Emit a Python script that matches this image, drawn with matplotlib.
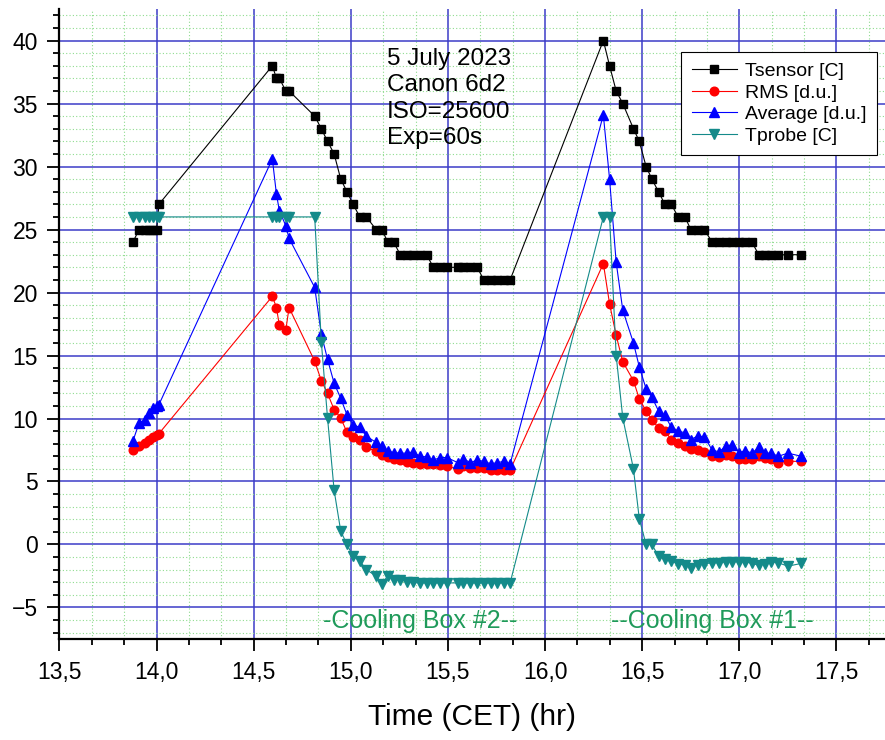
import matplotlib
matplotlib.use("Agg")
import matplotlib.pyplot as plt
from matplotlib.ticker import MultipleLocator, FuncFormatter

# =========================
# DATA
# =========================

# time points (hr, CET)
t_start = [13.878, 13.91, 13.94, 13.96, 13.98, 14.0, 14.012]
t_peak1 = [14.596, 14.617, 14.632, 14.665, 14.682]
t_box2 = [14.814, 14.848, 14.88, 14.914, 14.948, 14.98, 15.012, 15.046, 15.08, 15.13,
          15.16, 15.19, 15.22, 15.255, 15.29, 15.32, 15.355, 15.39, 15.425, 15.46,
          15.495, 15.55, 15.58, 15.615, 15.65, 15.685, 15.72, 15.755, 15.79, 15.82]
t_box1 = [16.30, 16.332, 16.366, 16.40, 16.455, 16.485, 16.52, 16.55, 16.584, 16.617,
          16.65, 16.685, 16.72, 16.75, 16.785, 16.82, 16.86, 16.895, 16.93, 16.96,
          17.0, 17.03, 17.065, 17.1, 17.13, 17.165, 17.2, 17.25, 17.32]
time = t_start + t_peak1 + t_box2 + t_box1

tsensor = ([24, 25, 25, 25, 25, 25, 27]
           + [38, 37, 37, 36, 36]
           + [34, 33, 32, 31, 29, 28, 27, 26, 26, 25, 25, 24, 24, 23, 23, 23, 23, 23,
              22, 22, 22, 22, 22, 22, 22, 21, 21, 21, 21, 21]
           + [40, 38, 36, 35, 33, 32, 30, 29, 28, 27, 27, 26, 26, 25, 25, 25, 24, 24,
              24, 24, 24, 24, 24, 23, 23, 23, 23, 23, 23])

rms = ([7.5, 7.8, 8.07, 8.3, 8.5, 8.7, 8.8]
       + [19.7, 18.8, 17.4, 17.0, 18.8]
       + [14.55, 13.0, 12.0, 10.7, 10.05, 8.9, 8.5, 8.3, 7.7, 7.4, 7.1, 6.96, 6.8, 6.7,
          6.55, 6.5, 6.4, 6.35, 6.35, 6.3, 6.2, 6.0, 6.2, 6.1, 6.1, 6.1, 5.9, 5.9, 5.9, 5.9]
       + [22.3, 19.1, 16.6, 14.5, 13.0, 11.56, 10.6, 9.9, 9.26, 9.0, 8.33, 8.07, 7.8,
          7.54, 7.48, 7.33, 7.06, 6.96, 7.1, 7.0, 6.8, 6.8, 6.8, 7.0, 6.9, 6.8, 6.5, 6.6, 6.6])

average = ([8.2, 9.66, 9.9, 10.45, 10.8, 11.0, 11.1]
           + [30.6, 27.8, 26.5, 25.3, 24.3]
           + [20.4, 16.7, 14.7, 12.8, 11.6, 10.3, 9.5, 9.3, 8.6, 8.1, 7.8, 7.4, 7.3, 7.25,
              7.25, 7.35, 7.0, 6.96, 6.7, 6.9, 6.9, 6.5, 6.8, 6.5, 6.7, 6.6, 6.4, 6.5, 6.6, 6.4]
           + [34.1, 29.0, 22.4, 18.6, 16.0, 14.1, 12.36, 11.7, 10.6, 10.24, 9.3, 9.0, 8.86,
              8.33, 8.6, 8.55, 7.5, 7.35, 7.8, 7.9, 7.3, 7.45, 7.25, 7.7, 7.25, 7.25, 7.0, 7.25, 7.0])

tprobe = ([26, 26, 26, 26, 26, 26, 26]
          + [26, 26, 26, 26, 26]
          + [26.0, 16.1, 10.05, 4.3, 1.06, 0.0, -0.93, -1.3, -2.0, -2.5, -3.1, -2.5, -2.78,
             -2.8, -2.95, -3.0, -3.05, -3.05, -3.05, -3.05, -3.05, -3.05, -3.05, -3.05,
             -3.05, -3.05, -3.05, -3.05, -3.05, -3.05]
          + [26.0, 26.0, 15.0, 10.05, 6.0, 2.04, 0.0, 0.0, -0.93, -1.19, -1.32, -1.53, -1.64,
             -1.85, -1.6, -1.53, -1.45, -1.45, -1.37, -1.37, -1.37, -1.37, -1.5, -1.64,
             -1.53, -1.37, -1.45, -1.72, -1.5])

info_lines = ["5 July 2023", "Canon 6d2", "ISO=25600", "Exp=60s"]

# =========================
# PLOT
# =========================

plt.rcParams["font.family"] = ["Liberation Sans", "DejaVu Sans"]

fig = plt.figure(figsize=(8.85, 7.4), dpi=100)
ax = fig.add_axes([0.0672, 0.1365, 0.9328, 0.8513])

ax.plot(time, tsensor, color="black", lw=0.8, marker="s", ms=5.8, label="Tsensor [C]")
ax.plot(time, rms, color="red", lw=0.8, marker="o", ms=6.2, label="RMS [d.u.]")
ax.plot(time, average, color="blue", lw=0.8, marker="^", ms=7, label="Average [d.u.]")
ax.plot(time, tprobe, color="#148a8a", lw=0.8, marker="v", ms=7, label="Tprobe [C]")

ax.set_xlim(13.5, 17.75)
ax.set_ylim(-7.5, 42.5)

ax.xaxis.set_major_locator(MultipleLocator(0.5))
ax.xaxis.set_minor_locator(MultipleLocator(1 / 6))
ax.yaxis.set_major_locator(MultipleLocator(5))
ax.yaxis.set_minor_locator(MultipleLocator(1))
ax.xaxis.set_major_formatter(FuncFormatter(lambda v, p: f"{v:.1f}".replace(".", ",")))

ax.set_axisbelow(True)
ax.grid(which="major", color="#3c3cc8", lw=1.1)
ax.grid(which="minor", color="#8fdc8f", lw=0.8, ls=(0, (1, 2)))

ax.tick_params(which="major", direction="out", length=8.5, width=1.3, labelsize=16.5, pad=7)
ax.tick_params(which="minor", direction="out", length=4.3, width=1.3)

for side in ["top", "right"]:
    ax.spines[side].set_visible(False)
for side in ["left", "bottom"]:
    ax.spines[side].set_linewidth(1.6)

ax.set_xlabel("Time (CET) (hr)", fontsize=21.5, labelpad=14)

ax.text(15.186, 39.4, "\n".join(info_lines), fontsize=17.5, va="top", ha="left",
        linespacing=1.25)
ax.text(15.356, -6.1, "-Cooling Box #2--", fontsize=18, color="#1f9a5a", ha="center", va="center")
ax.text(16.86, -6.1, "--Cooling Box #1--", fontsize=18, color="#1f9a5a", ha="center", va="center")

leg = ax.legend(loc="upper right", bbox_to_anchor=(0.99, 0.932), fontsize=14,
                fancybox=False, framealpha=1, edgecolor="black", handlelength=2.3,
                labelspacing=0.2, borderpad=0.55, handletextpad=0.4, borderaxespad=0)
leg.get_frame().set_linewidth(0.8)

fig.savefig("out.png", dpi=100)
